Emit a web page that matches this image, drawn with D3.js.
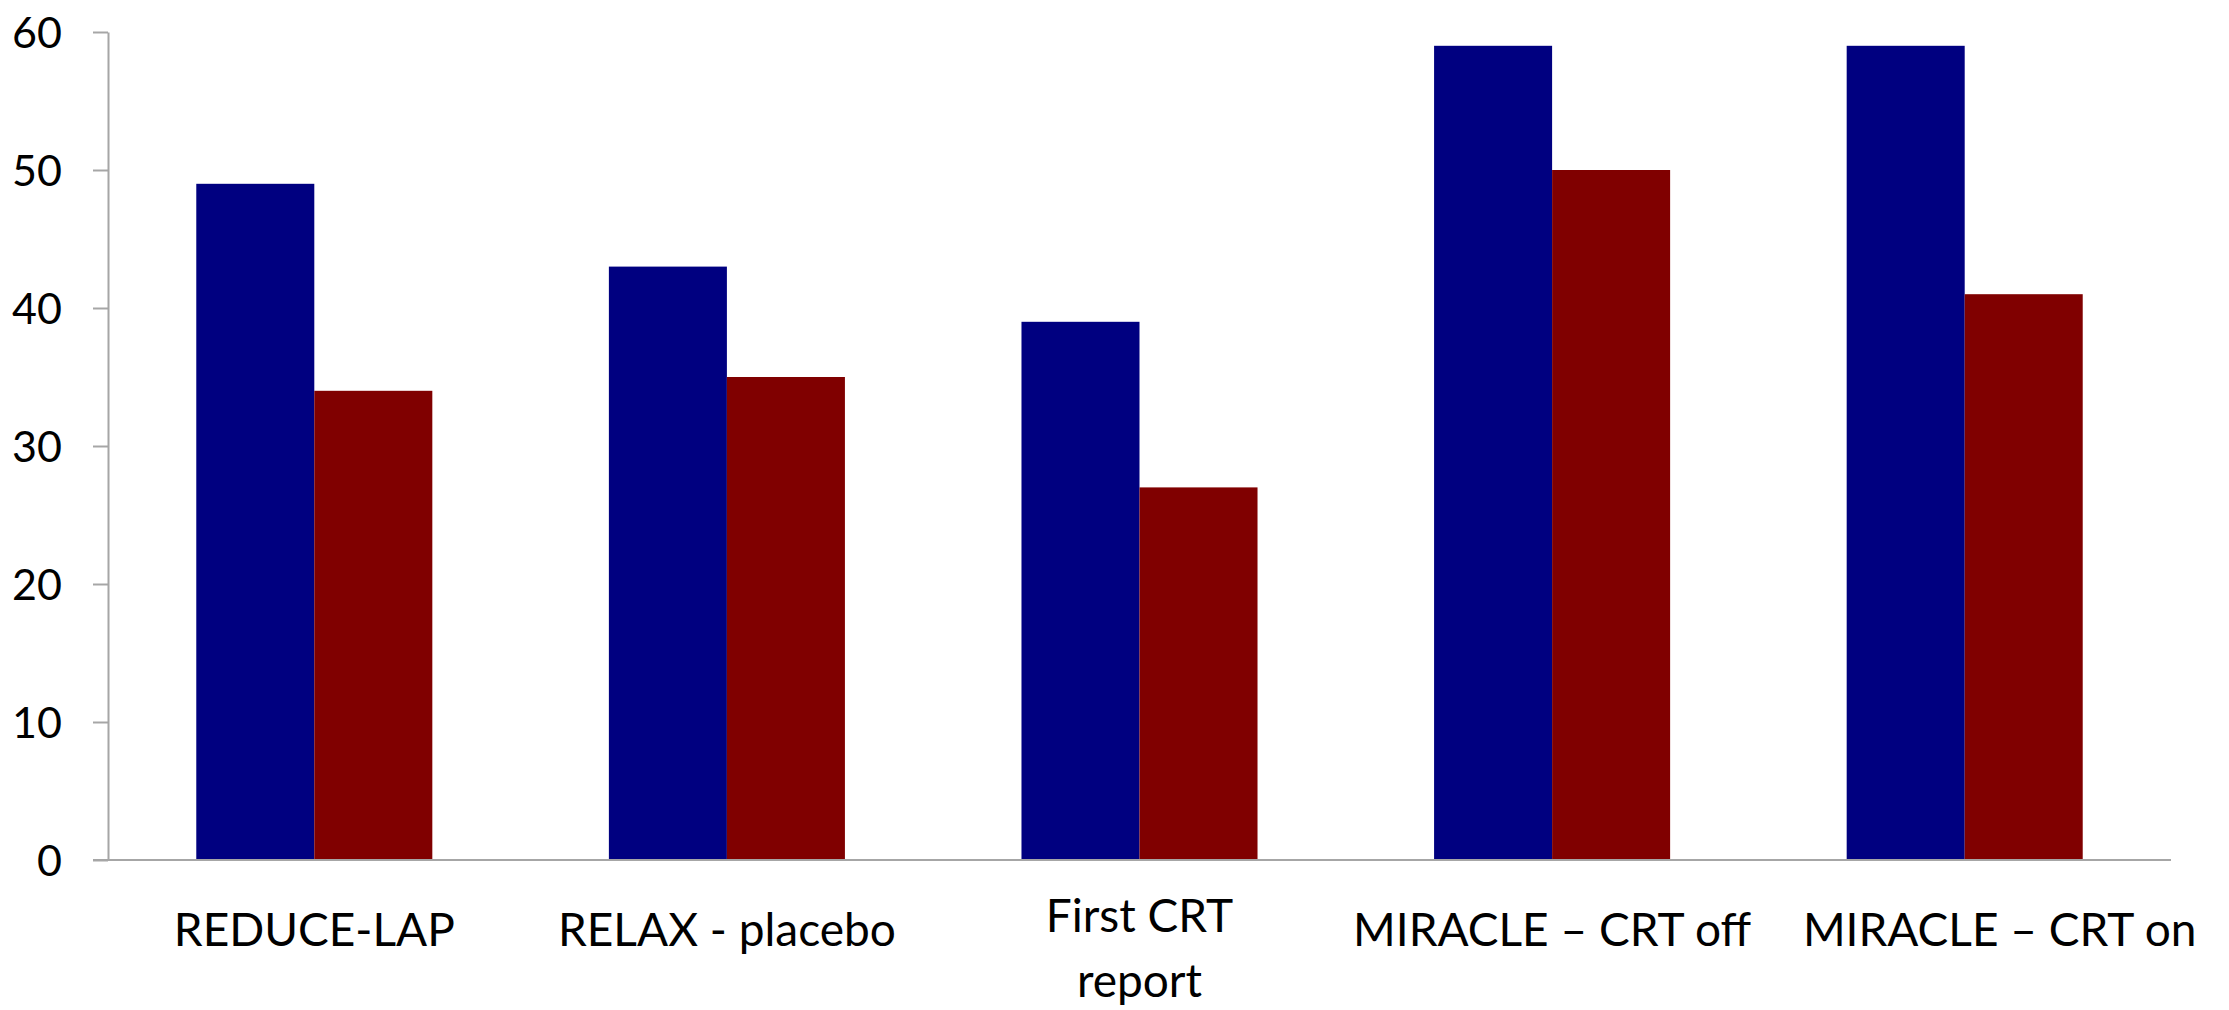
<!DOCTYPE html>
<html><head><meta charset="utf-8">
<script src="https://cdn.jsdelivr.net/npm/d3@7"></script>
<style>body{margin:0;background:#fff}svg{display:block}</style>
</head><body>
<svg id="c" width="2229" height="1010"></svg>
<script>
const categories = [["REDUCE-LAP"], ["RELAX - placebo"], ["First CRT", "report"], ["MIRACLE \u2013 CRT off"], ["MIRACLE \u2013 CRT on"]];
const seriesA = [49, 43, 39, 59, 59];
const seriesB = [34, 35, 27, 50, 41];
const yTicks = [0, 10, 20, 30, 40, 50, 60];
const colors = ["#000080", "#800000"];
const labelShift = [0, 0, 0, 0, 35];

(function(){
const svg = d3.select("#c");
const mLeft = 108, mRight = 2171, mTop = 32, mBottom = 860;
const x = d3.scaleBand().domain(d3.range(categories.length)).range([mLeft, mRight]).paddingInner(0).paddingOuter(0);
const inner = d3.scaleBand().domain([0,1]).range([0, x.bandwidth()]).paddingInner(0).paddingOuter(0.748);
const y = d3.scaleLinear().domain([0, 60]).range([mBottom, mTop]);
const font = "Lato, 'Open Sans', sans-serif";

const series = [seriesA, seriesB];
series.forEach((vals, si) => {
  svg.append("g").selectAll("rect").data(vals).join("rect")
    .attr("x", (d,i) => x(i) + inner(si))
    .attr("y", d => y(d))
    .attr("width", inner.bandwidth())
    .attr("height", d => y(0) - y(d))
    .attr("fill", colors[si]);
});

const yAxis = svg.append("g").attr("transform", `translate(${mLeft},0)`)
  .call(d3.axisLeft(y).tickValues(yTicks).tickSize(15).tickPadding(31).tickSizeOuter(0));
yAxis.select(".domain").attr("stroke", "#a6a6a6").attr("stroke-width", 2);
yAxis.selectAll(".tick line").attr("stroke", "#a6a6a6").attr("stroke-width", 2);
yAxis.selectAll(".tick text").attr("font-family", font).attr("font-size", 43).attr("fill", "#000").attr("dy", "0.36em");

svg.append("line").attr("x1", mLeft - 15).attr("x2", mRight).attr("y1", mBottom).attr("y2", mBottom)
  .attr("stroke", "#a6a6a6").attr("stroke-width", 2);

const lab = svg.append("g");
categories.forEach((lines, i) => {
  const cx = x(i) + x.bandwidth()/2 + labelShift[i];
  const t = lab.append("text").attr("x", cx).attr("text-anchor", "middle")
    .attr("font-family", font).attr("font-size", 46).attr("fill", "#000");
  const y0 = lines.length === 1 ? 946 : 932;
  lines.forEach((ln, k) => {
    t.append("tspan").attr("x", cx).attr("y", y0 + k*65).text(ln);
  });
});
})();
</script>
</body></html>
